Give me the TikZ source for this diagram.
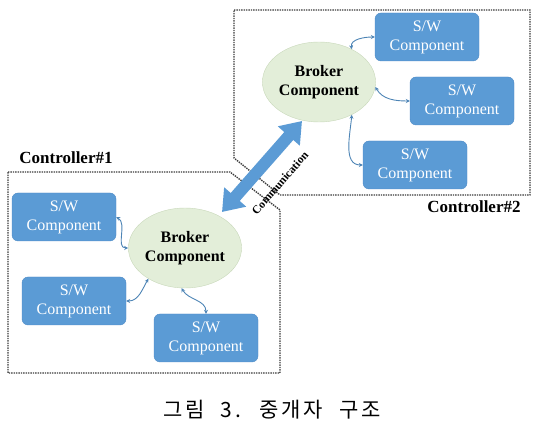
\documentclass[tikz,border=0pt]{standalone}
\usepackage{fontspec}
\setmainfont{Liberation Serif}
\newfontfamily\krfont[LetterSpace=13,WordSpace=2.2]{Noto Sans CJK KR}
\usetikzlibrary{arrows.meta,shapes.geometric}
\definecolor{swblue}{HTML}{5B9BD5}
\definecolor{swedge}{HTML}{4E8AC6}
\definecolor{brokerfill}{HTML}{E3EED9}
\definecolor{brokeredge}{HTML}{C8D8BA}
\definecolor{boxline}{HTML}{3C3C3C}

\begin{document}
\begin{tikzpicture}[x=1pt,y=-1pt,
 swcomp/.style={draw=swedge,fill=swblue,rounded corners=6pt,minimum width=104pt,
   minimum height=48pt,align=center,text=white,inner sep=0pt,
   font=\fontsize{16}{19}\selectfont},
 broker/.style={ellipse,draw=brokeredge,fill=brokerfill,minimum width=90pt,
   minimum height=80pt,align=center,inner sep=0pt,
   font=\bfseries\fontsize{16}{19}\selectfont},
 link/.style={swblue!85!black,line width=0.9pt,
   {Stealth[length=4pt,width=4pt]}-{Stealth[length=4pt,width=4pt]}},
 ctrl/.style={boxline,line width=1.4pt,densely dotted},
 ctrllabel/.style={font=\bfseries\fontsize{17}{17}\selectfont}]
 \useasboundingbox (0,0) rectangle (539,430);
 % controller frames
 \draw[ctrl] (234,10) -- (530,10) -- (530,195) -- (280,195) -- (234,158) -- cycle;
 \draw[ctrl] (8,172) -- (230,172) -- (280,210) -- (280,373) -- (8,373) -- cycle;
 \node[ctrllabel] (ctrl1) at (66,158) {Controller\#1};
 \node[ctrllabel] (ctrl2) at (474,207) {Controller\#2};
 % controller 2
 \node[broker] (b2) at (319,82) {Broker\\Component};
 \node[swcomp] (s21) at (427,37) {S/W\\Component};
 \node[swcomp] (s22) at (462,101) {S/W\\Component};
 \node[swcomp] (s23) at (415,165) {S/W\\Component};
 \draw[link] (b2.45) to[out=100,in=180] (s21.west);
 \draw[link] (b2.-5) to[out=-60,in=180] (s22.west);
 \draw[link] (b2.-45) to[out=-95,in=180] (s23.west);
 % controller 1
 \node[broker] (b1) at (185,248) {Broker\\Component};
 \node[swcomp] (s11) at (64,217) {S/W\\Component};
 \node[swcomp] (s12) at (74,301) {S/W\\Component};
 \node[swcomp] (s13) at (206,338) {S/W\\Component};
 \draw[link] (s11.east) to[out=-30,in=180] (b1.180);
 \draw[link] (s12.east) to[out=0,in=-120] (b1.220);
 \draw[link] (b1.265) to[out=-60,in=90] (s13.north);
 % communication
 \coordinate (cstart) at (222,212);
 \coordinate (cend) at (302,121);
 \draw[swblue,line width=12pt,
   {Triangle[width=28pt,length=20pt]}-{Triangle[width=28pt,length=20pt]}]
   (cstart) -- (cend);
 \node[rotate=49,font=\bfseries\fontsize{11.5}{12}\selectfont] (comm) at (280,183) {Communication};
 \node[font=\krfont\fontsize{21}{21}\selectfont] (caption) at (272,410) {그림 3. 중개자 구조};
\end{tikzpicture}
\end{document}
